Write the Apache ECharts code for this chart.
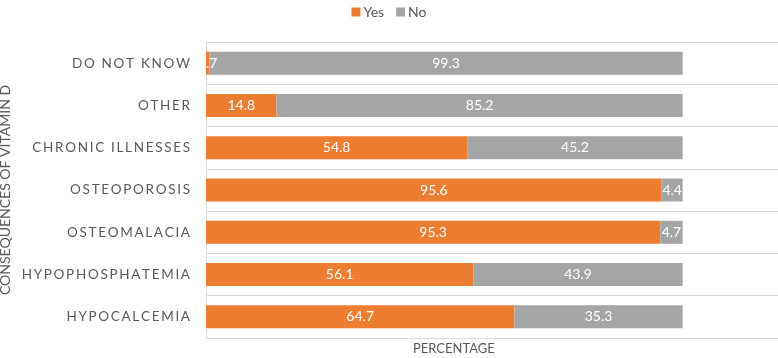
<!DOCTYPE html>
<html>
<head>
<meta charset="utf-8">
<script src="https://cdn.jsdelivr.net/npm/echarts@6/dist/echarts.min.js"></script>
<style>
  html, body { margin: 0; padding: 0; background: #fff; }
  #chart { width: 778px; height: 358px; }
</style>
</head>
<body>
<div id="chart"></div>
<script>
var categories = ['HYPOCALCEMIA', 'HYPOPHOSPHATEMIA', 'OSTEOMALACIA', 'OSTEOPOROSIS',
                  'CHRONIC ILLNESSES', 'OTHER', 'DO NOT KNOW'];
var yesValues = [64.7, 56.1, 95.3, 95.6, 54.8, 14.8, 0.7];
var noValues = [35.3, 43.9, 4.7, 4.4, 45.2, 85.2, 99.3];

var chart = echarts.init(document.getElementById('chart'));

// spread letters a bit, like the spaced caps in the original
function spaced(s) {
    return s.split('').join('\u2009');
}

var font = 'Lato, "Open Sans", sans-serif';

var option = {
    animation: false,
    color: ['#ED7D31', '#A5A5A5'],
    legend: {
        top: 0,
        left: 'center',
        itemWidth: 9,
        itemHeight: 9,
        itemGap: 12,
        icon: 'rect',
        textStyle: { color: '#595959', fontSize: 14, fontFamily: font, padding: [0, 0, 0, -2] },
        data: ['Yes', 'No']
    },
    grid: { left: 206, right: 0, top: 42, bottom: 20, outerBoundsMode: 'none', containLabel: false },
    xAxis: {
        type: 'value',
        min: 0,
        max: 120,
        axisLabel: { show: false },
        axisTick: { show: false },
        splitLine: { show: false },
        axisLine: { show: true, lineStyle: { color: '#D9D9D9' } }
    },
    yAxis: {
        type: 'category',
        data: categories,
        name: 'CONSEQUENCES OF VITAMIN D',
        nameLocation: 'middle',
        nameGap: 194,
        nameMoveOverlap: false,
        nameTextStyle: { color: '#595959', fontSize: 14, fontFamily: font },
        axisLine: { show: true, lineStyle: { color: '#D9D9D9' } },
        axisTick: { show: false },
        splitLine: { show: true, lineStyle: { color: '#D9D9D9', width: 1 } },
        axisLabel: {
            color: '#595959',
            fontSize: 13.5,
            fontFamily: font,
            margin: 16,
            formatter: spaced
        }
    },
    graphic: [{
        type: 'text',
        left: 413,
        top: 342,
        style: { text: 'PERCENTAGE', fill: '#595959', fontSize: 13, fontFamily: font }
    }],
    series: [{
        name: 'Yes',
        type: 'bar',
        stack: 'total',
        barWidth: 23,
        data: yesValues,
        label: { show: true, position: 'inside', color: '#fff', fontSize: 14, fontFamily: font }
    }, {
        name: 'No',
        type: 'bar',
        stack: 'total',
        barWidth: 23,
        data: noValues,
        label: { show: true, position: 'inside', color: '#fff', fontSize: 14, fontFamily: font }
    }]
};

chart.setOption(option);
</script>
</body>
</html>
